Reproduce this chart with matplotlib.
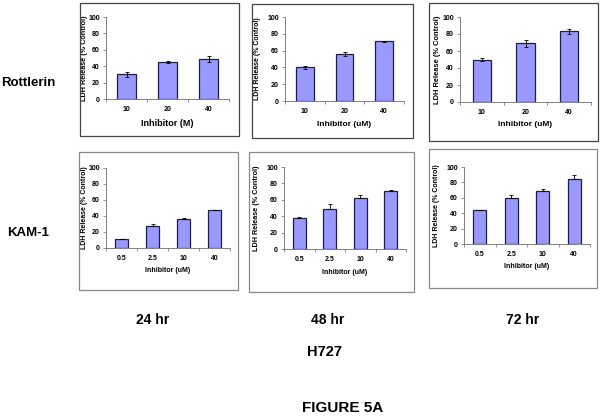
import matplotlib
matplotlib.use("Agg")
import matplotlib.pyplot as plt
from matplotlib.patches import Rectangle
from matplotlib.ticker import FixedLocator, NullFormatter
import numpy as np

plt.rcParams['font.family'] = ['Liberation Sans', 'DejaVu Sans']

# ─────────────────────────────
# DATA
# ─────────────────────────────
conc_rott = ['10', '20', '40']
conc_kam  = ['0.5', '2.5', '10', '40']

rott_24     = [30, 45, 49]
rott_24_err = [3, 1.5, 4]
rott_48     = [40, 56, 71]
rott_48_err = [2, 2, 1]
rott_72     = [50, 69, 83]
rott_72_err = [1.5, 4, 3]

kam_24     = [11, 27, 36, 47]
kam_24_err = [0.5, 2.5, 1, 0.5]
kam_48     = [38, 49, 62, 71]
kam_48_err = [0.5, 6, 4, 1.5]
kam_72     = [44, 60, 69, 85]
kam_72_err = [0.5, 3, 2, 5]

xlabels = ['Inhibitor (M)', 'Inhibitor (uM)', 'Inhibitor (uM)',
           'Inhibitor (uM)', 'Inhibitor (uM)', 'Inhibitor (uM)']
ylabel  = 'LDH Release (% Control)'
y_ticks = [0, 20, 40, 60, 80, 100]

W, H = 604, 418
fig = plt.figure(figsize=(W / 100, H / 100), dpi=100)


def fx(x):
    return x / W


def fy(y):
    return 1 - y / H


# ─────────────────────────────
# LAYOUT (pixels)
#   frame l,t,r,b | axes l,top,r,bottom | bar width | ylabel x | font sizes | both-sided err
# ─────────────────────────────
panels = [
    (conc_rott, rott_24, rott_24_err, (80, 3, 239, 136),   (106, 17, 229, 99),   0.48, 88,  6.5, 5.2, True,  '#444444'),
    (conc_rott, rott_48, rott_48_err, (252, 4, 413, 138),  (285, 17, 404, 101),  0.44, 261, 6.0, 5.0, True,  '#444444'),
    (conc_rott, rott_72, rott_72_err, (429, 3, 598, 141),  (460, 17, 591, 102),  0.42, 441, 6.0, 5.4, True,  '#444444'),
    (conc_kam,  kam_24,  kam_24_err,  (79, 152, 238, 290), (106, 168, 230, 248), 0.41, 88,  5.0, 5.0, False, '#888888'),
    (conc_kam,  kam_48,  kam_48_err,  (249, 152, 414, 292), (284, 167, 406, 249), 0.42, 260, 5.0, 5.2, False, '#888888'),
    (conc_kam,  kam_72,  kam_72_err,  (429, 149, 597, 288), (464, 167, 590, 244), 0.41, 440, 5.0, 5.0, False, '#888888'),
]

for i, (cats, vals, errs, frame, box, bw, ylx, xfs, yfs, both, fcol) in enumerate(panels):
    fl, ft, fr, fb = frame
    fig.patches.append(Rectangle((fx(fl), fy(fb)), fx(fr - fl), (fb - ft) / H,
                                 transform=fig.transFigure, fill=False,
                                 edgecolor=fcol, linewidth=0.9))

    al, at, ar, ab = box
    ax = fig.add_axes([fx(al), fy(ab), fx(ar - al), (ab - at) / H])
    x = np.arange(len(cats))
    yerr = errs if both else [np.zeros(len(errs)), errs]
    ax.bar(x, vals, width=bw, color='#9999ff', edgecolor='#1e1e4a',
           linewidth=0.9, zorder=2)
    ax.errorbar(x, vals, yerr=yerr, fmt='none', ecolor='black',
                elinewidth=0.6, capsize=1.6, capthick=0.6, zorder=3)

    ax.set_xlim(-0.5, len(cats) - 0.5)
    ax.set_ylim(0, 100)
    ax.set_yticks(y_ticks)
    ax.set_yticklabels([str(t) for t in y_ticks], fontsize=5, fontweight='bold')
    ax.set_xticks(x)
    ax.set_xticklabels(cats, fontsize=5, fontweight='bold')
    ax.xaxis.set_minor_locator(FixedLocator(np.arange(len(cats) + 1) - 0.5))
    ax.xaxis.set_minor_formatter(NullFormatter())
    ax.tick_params(axis='x', which='major', length=0, pad=5)
    ax.tick_params(axis='x', which='minor', length=2, width=0.6,
                   color='#808080', direction='out')
    ax.tick_params(axis='y', length=2, width=0.6, color='#808080', pad=2.5)

    for s in ['top', 'right']:
        ax.spines[s].set_visible(False)
    for s in ['left', 'bottom']:
        ax.spines[s].set_color('#808080')
        ax.spines[s].set_linewidth(0.7)

    ax.set_xlabel(xlabels[i], fontsize=xfs, fontweight='bold', labelpad=4)
    ax.set_ylabel(ylabel, fontsize=yfs, fontweight='bold')
    ax.yaxis.set_label_coords((ylx - al) / (ar - al), 0.5)
    ax.patch.set_alpha(0)

# ─────────────────────────────
# TEXT LABELS
# ─────────────────────────────
fig.text(fx(28), fy(83), 'Rottlerin', ha='center', va='center',
         fontsize=9.5, fontweight='bold')
fig.text(fx(28), fy(233), 'KAM-1', ha='center', va='center',
         fontsize=9.5, fontweight='bold')

for lbl, xc in zip(['24 hr', '48 hr', '72 hr'], [153, 328, 523]):
    fig.text(fx(xc), fy(320), lbl, ha='center', va='center',
             fontsize=10, fontweight='bold')

fig.text(fx(325), fy(352), 'H727', ha='center', va='center',
         fontsize=10.5, fontweight='bold')
fig.text(fx(343), fy(408), 'FIGURE 5A', ha='center', va='center',
         fontsize=11, fontweight='bold')

fig.savefig('out.png', dpi=100)
